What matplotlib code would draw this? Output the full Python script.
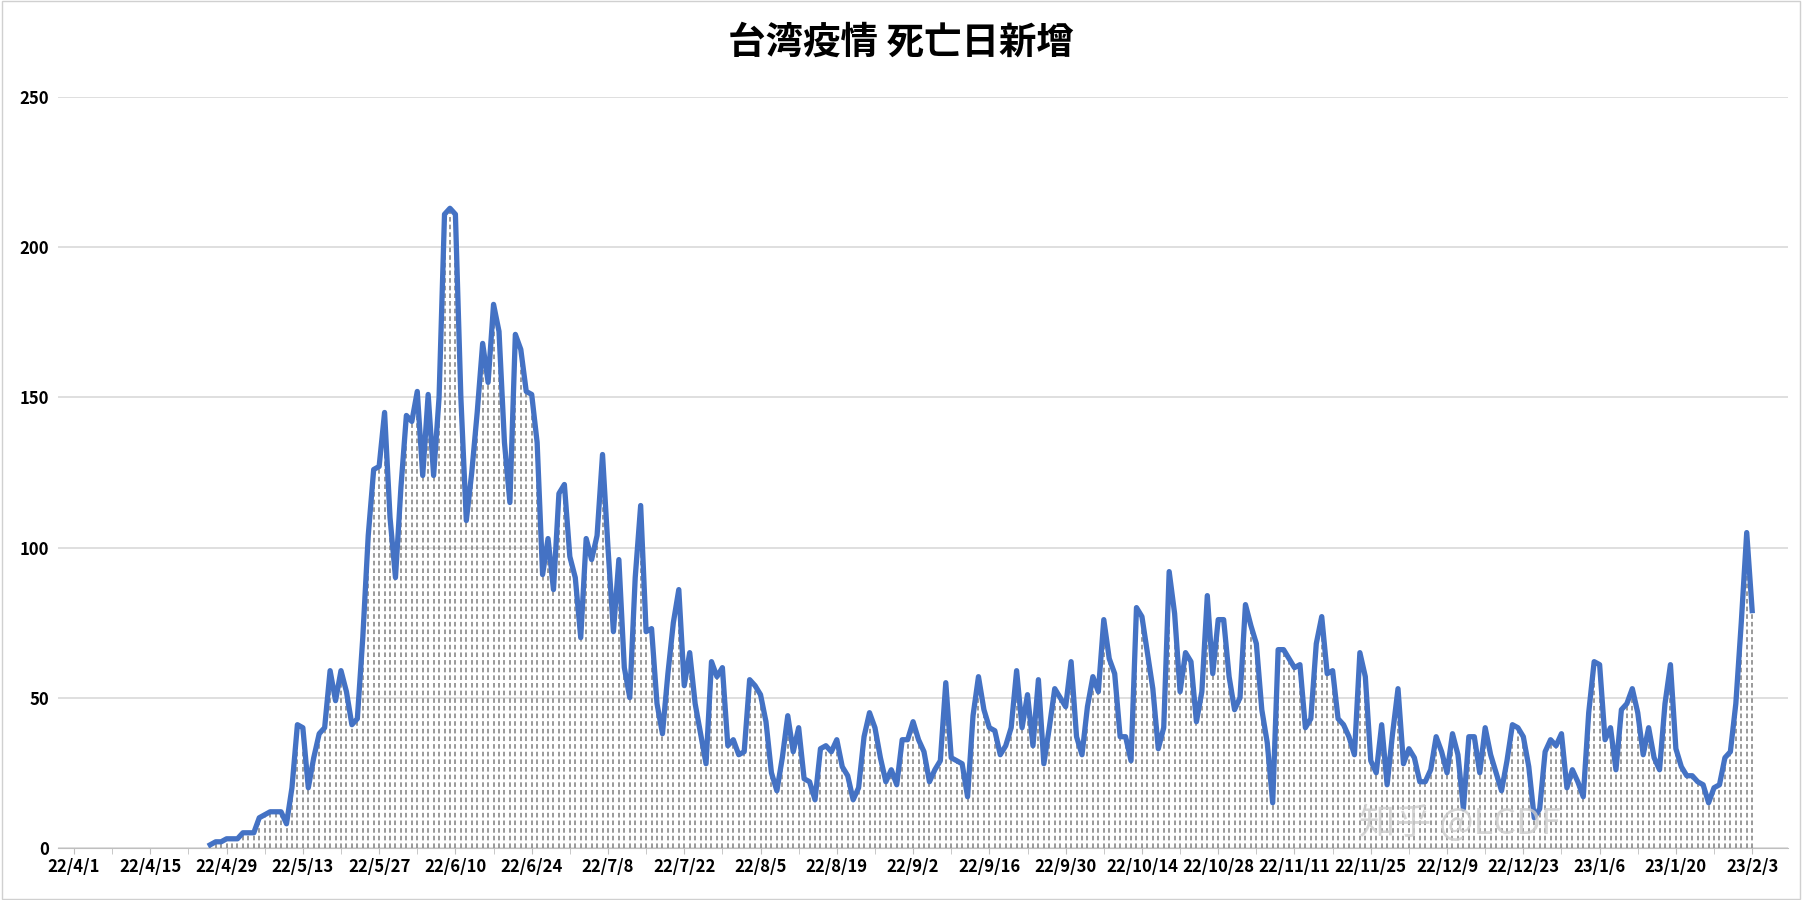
import numpy as np
import pandas as pd
import matplotlib
matplotlib.use('Agg')
import matplotlib.pyplot as plt
from matplotlib import font_manager
from matplotlib.ticker import MultipleLocator

# 每日新增死亡
apr = [np.nan] * 25 + [1, 2, 2, 3, 3]
may = [3, 5, 5, 5, 10, 11, 12, 12, 12, 8, 20, 41, 40, 20, 30, 38, 40, 59, 49, 59, 52, 41, 43, 70, 104, 126, 127, 145, 110, 90, 120]
jun = [144, 142, 152, 124, 151, 124, 150, 211, 213, 211, 150, 109, 125, 145, 168, 155, 181, 172, 135, 115, 171, 166, 152, 151, 135, 91, 103, 86, 118, 121]
jul = [97, 90, 70, 103, 96, 104, 131, 100, 72, 96, 60, 50, 90, 114, 72, 73, 48, 38, 58, 75, 86, 54, 65, 48, 38, 28, 62, 57, 60, 34, 36]
aug = [31, 32, 56, 54, 51, 42, 25, 19, 30, 44, 32, 40, 23, 22, 16, 33, 34, 32, 36, 27, 24, 16, 20, 37, 45, 40, 30, 22, 26, 21, 36]
sep = [36, 42, 36, 32, 22, 26, 29, 55, 30, 29, 28, 17, 44, 57, 46, 40, 39, 31, 34, 40, 59, 40, 51, 34, 56, 28, 40, 53, 50, 47]
oct_ = [62, 37, 31, 47, 57, 52, 76, 63, 58, 37, 37, 29, 80, 77, 65, 53, 33, 40, 92, 78, 52, 65, 62, 42, 52, 84, 58, 76, 76, 57, 46]
nov = [50, 81, 74, 68, 46, 35, 15, 66, 66, 63, 60, 61, 40, 43, 68, 77, 58, 59, 43, 41, 37, 31, 65, 57, 29, 25, 41, 21, 38, 53]
dec = [28, 33, 30, 22, 22, 26, 37, 32, 25, 38, 31, 13, 37, 37, 25, 40, 31, 25, 19, 29, 41, 40, 37, 27, 10, 13, 32, 36, 34, 38, 20]
jan = [26, 22, 17, 45, 62, 61, 36, 40, 26, 46, 48, 53, 45, 31, 40, 30, 26, 48, 61, 33, 27, 24, 24, 22, 21, 15, 20, 21, 30, 32, 48]
feb = [75, 105, 79]

values = np.array(apr + may + jun + jul + aug + sep + oct_ + nov + dec + jan + feb, dtype=float)
dates = pd.date_range('2022-04-01', periods=len(values), freq='D')
labels = [f"{d.year % 100}/{d.month}/{d.day}" for d in dates]
x = np.arange(len(values))

# 找一个可用的中文字体
names = sorted({f.name for f in font_manager.fontManager.ttflist})
cjk = [n for n in names if 'CJK' in n]
pref = [n for n in cjk if n.endswith('SC')] + cjk
plt.rcParams['font.family'] = 'sans-serif'
plt.rcParams['font.sans-serif'] = pref[:1] + ['DejaVu Sans']

fig = plt.figure(figsize=(18.02, 9), dpi=100)
ax = fig.add_axes([0.032, 0.058, 0.96, 0.834])

ax.yaxis.grid(True, color='#d9d9d9', linewidth=1.2)
ax.set_axisbelow(True)

ok = ~np.isnan(values)
ax.vlines(x[ok], 0, values[ok], colors='#7f7f7f', linestyles=(0, (3, 2)), linewidth=1.1)
ax.plot(x, values, color='#4472C4', linewidth=3.8, solid_joinstyle='round')

ax.set_xlim(-3, 314.5)
ax.set_ylim(0, 250)
ax.yaxis.set_major_locator(MultipleLocator(50))
ax.set_xticks(x[::14])
ax.set_xticklabels(labels[::14])
ax.set_xticks(x[::7], minor=True)
for lab in ax.get_xticklabels() + ax.get_yticklabels():
    lab.set_fontweight('bold')
    lab.set_fontsize(12)
ax.tick_params(axis='y', length=0, pad=6)
ax.tick_params(axis='x', which='both', length=4, color='#bfbfbf')

for s in ['top', 'right', 'left']:
    ax.spines[s].set_visible(False)
ax.spines['bottom'].set_color('#bfbfbf')

fig.text(0.5, 0.953, '台湾疫情 死亡日新增', ha='center', va='center', fontsize=27, fontweight='bold')
fig.text(0.81, 0.085, '知乎 @LCDF', ha='center', va='center', fontsize=26, color='#cccccc', alpha=0.8)

fig.patches.append(plt.Rectangle((0.001, 0.001), 0.998, 0.998, transform=fig.transFigure,
                                 fill=False, edgecolor='#d0d0d0', linewidth=1))

fig.savefig('out.png', dpi=100)
